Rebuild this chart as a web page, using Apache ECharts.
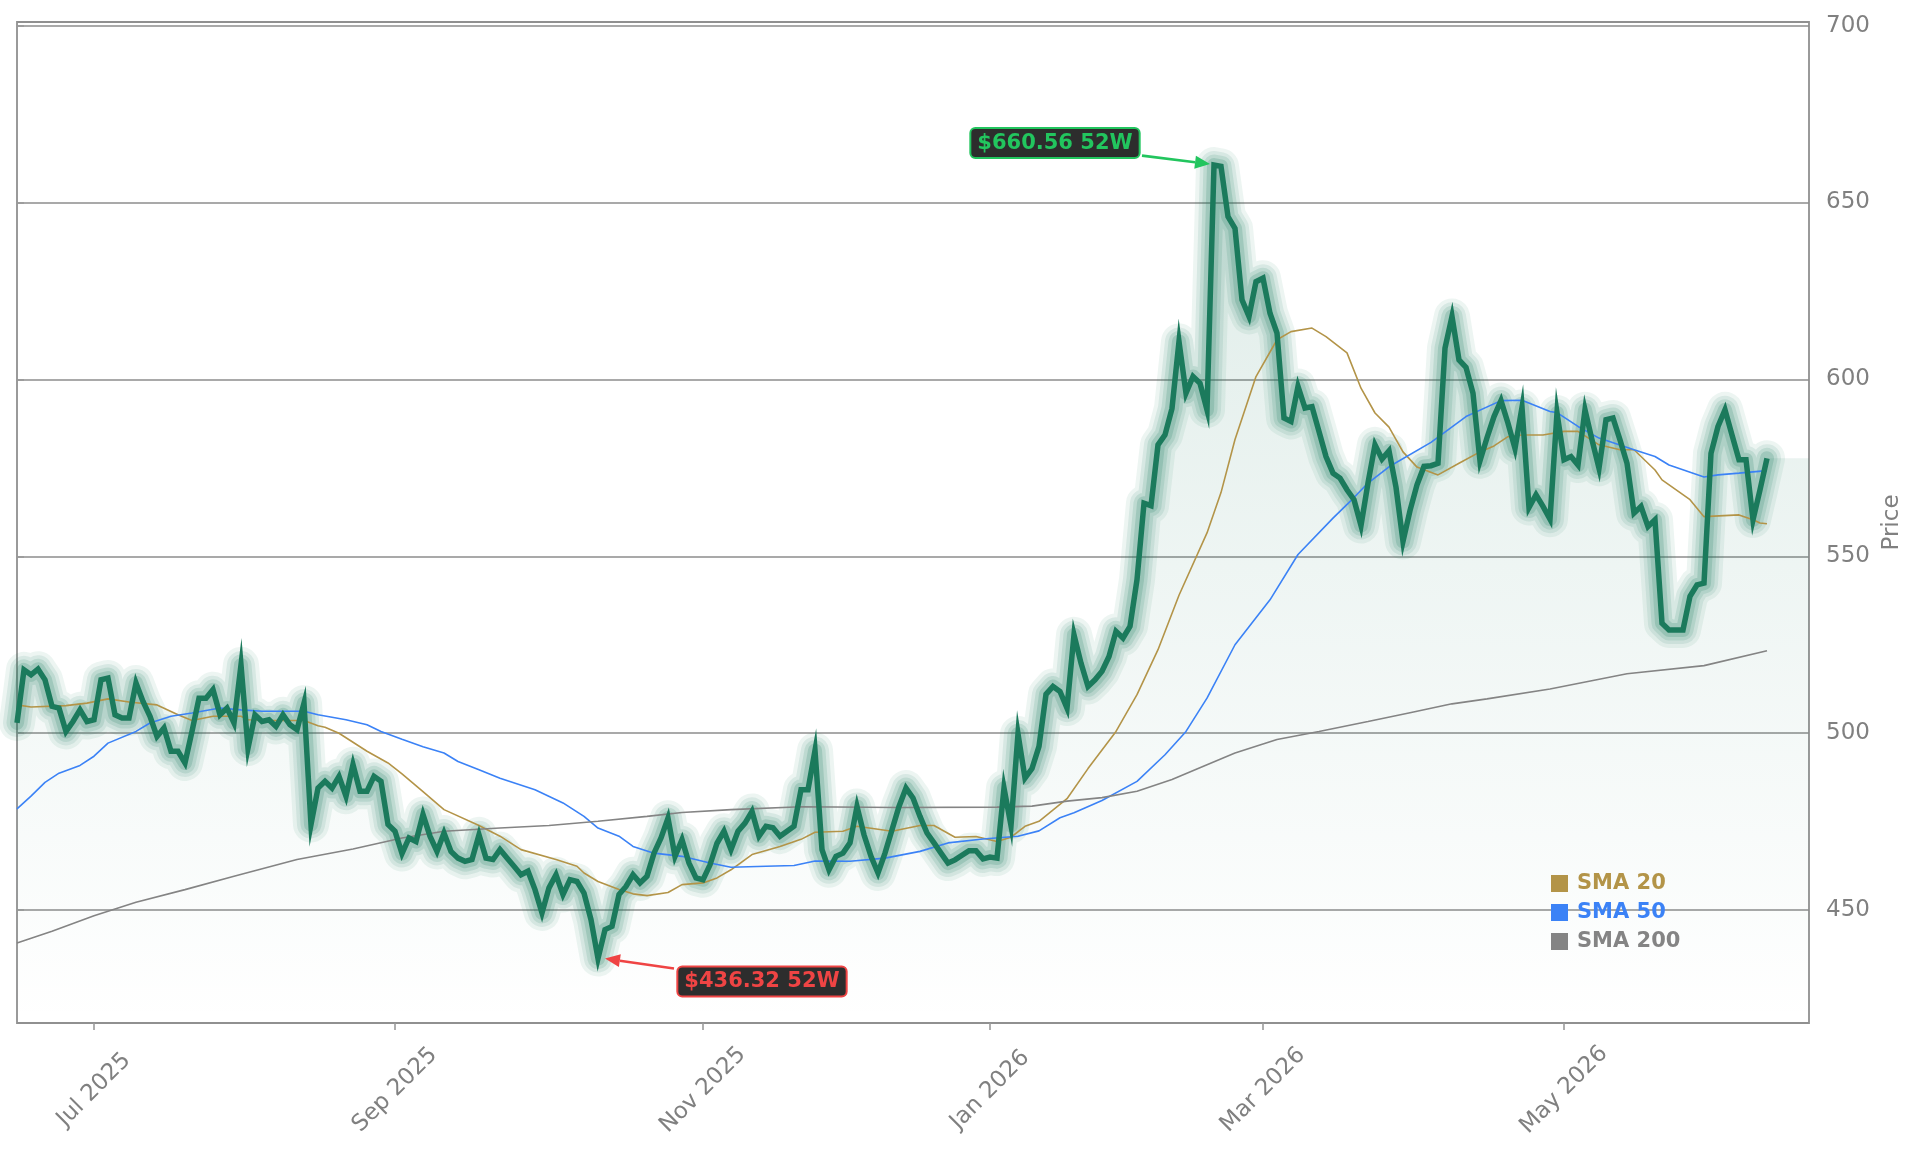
<!DOCTYPE html>
<html><head><meta charset="utf-8">
<script src="https://cdn.jsdelivr.net/npm/echarts@6/dist/echarts.min.js"></script>
<style>html,body{margin:0;padding:0;background:#fff}#c{width:1921px;height:1158px}</style>
</head><body><div id="c"></div>
<script>
// ---------- data ----------
const startDate = '2025-06-13';
const holidays = ['2025-06-19','2025-07-04','2025-09-01','2025-11-27','2025-12-25','2026-01-01','2026-01-19','2026-02-16','2026-04-03','2026-05-25','2026-06-19'];
const nCategories = 257;
const tickMonths = ['2025-07','2025-09','2025-11','2026-01','2026-03','2026-05'];
const yTicks = [450, 500, 550, 600, 650, 700];

const price = [
502.9,517.9,516.5,518.1,515.1,507.6,507.1,500.5,503.3,506.6,
503.3,503.8,515.1,515.6,505.2,504.3,504.3,514.2,509.0,504.8,
499.1,501.5,494.9,494.9,491.6,500.5,509.9,509.9,512.3,505.2,
507.1,502.9,519.3,495.8,505.2,503.3,503.8,501.9,505.2,502.4,
501.0,508.5,474.2,484.5,486.4,484.5,487.8,482.2,491.1,483.6,
483.6,487.8,486.4,474.2,472.3,466.0,470.4,469.4,477.0,470.9,
466.6,471.8,466.6,464.7,463.8,464.3,471.3,464.7,464.3,467.1,
464.7,462.4,460.0,461.0,455.8,449.2,456.3,460.0,454.4,458.6,
458.1,454.8,447.3,436.32,444.5,445.4,454.4,456.7,460.0,457.7,
459.6,466.1,470.4,476.0,465.2,469.9,463.3,459.1,458.6,462.8,
468.9,472.3,467.1,472.3,474.6,477.9,470.9,473.7,473.3,470.9,
472.3,473.7,484.0,484.0,495.1,467.1,461.4,465.2,466.1,469.0,
479.3,471.3,465.2,460.5,466.1,472.7,479.3,484.5,481.7,476.5,
471.8,469.0,466.1,463.3,464.2,465.5,466.8,466.8,464.5,465.0,
464.7,484.5,473.9,499.8,487.3,490.0,496.3,511.0,513.2,511.8,
507.1,527.8,519.8,513.2,515.1,517.5,521.7,528.8,526.9,530.2,
543.4,565.0,564.3,581.5,584.3,591.8,610.7,596.1,600.8,598.9,
591.4,660.56,660.2,646.0,642.7,622.5,617.8,627.6,628.6,618.7,
613.1,589.1,588.1,598.0,591.9,592.3,585.3,578.2,573.5,572.1,
568.8,566.0,558.7,570.7,581.5,577.5,579.8,569.5,554.2,562.9,
570.2,575.4,575.6,576.3,608.8,617.8,605.5,603.4,596.1,577.0,
583.5,589.5,594.0,587.6,580.5,592.1,563.8,567.4,564.1,560.5,
590.5,577.3,578.2,575.8,591.4,582.9,574.9,588.6,589.1,582.9,
576.3,562.2,564.1,558.4,560.3,531.1,529.2,529.2,529.2,538.7,
541.9,542.4,579.1,586.7,591.4,584.3,577.3,577.3,560.3,568.8,
577.7
];

const sma20 = [[0,508.0],[2,507.4],[7,507.8],[10,508.5],[13,509.7],[16,508.8],[20,508.0],[23,505.2],[25,503.6],[28,504.8],[32,504.8],[33,503.8],[36,503.6],[41,503.6],[43,502.1],[44,501.7],[46,500.0],[50,494.9],[53,491.6],[55,488.5],[58,483.5],[61,478.4],[66,473.9],[69,470.9],[72,467.1],[77,464.3],[80,462.4],[81,460.5],[83,458.1],[86,455.8],[88,454.6],[90,454.1],[93,455.0],[95,457.2],[98,457.7],[100,459.1],[102,461.4],[105,465.7],[109,468.0],[112,470.0],[114,472.0],[118,472.3],[120,473.7],[125,472.3],[129,473.9],[131,473.9],[134,470.6],[137,470.8],[140,469.4],[142,470.6],[144,473.7],[146,475.1],[150,481.5],[153,490.0],[157,500.5],[160,510.9],[163,523.6],[166,539.0],[170,556.6],[172,568.0],[174,583.0],[177,600.8],[180,611.2],[182,613.5],[185,614.5],[187,612.1],[190,607.5],[192,597.5],[194,590.5],[196,586.5],[198,579.5],[200,575.2],[203,573.0],[206,576.3],[209,579.5],[211,581.2],[213,583.8],[215,584.3],[218,584.3],[221,585.3],[223,585.3],[226,581.5],[229,580.1],[231,580.1],[234,574.4],[235,571.6],[239,566.0],[241,561.2],[246,561.7],[248,560.3],[249,559.4],[250,559.2]];

const sma50 = [[0,478.6],[2,482.2],[4,486.1],[6,488.7],[9,490.9],[11,493.5],[13,497.2],[17,500.5],[19,502.9],[22,504.8],[25,505.7],[29,507.1],[32,506.6],[35,506.2],[41,506.2],[43,505.2],[47,503.8],[50,502.4],[52,500.5],[55,498.3],[58,496.2],[61,494.4],[63,492.0],[66,489.7],[69,487.3],[74,484.0],[78,480.3],[81,476.5],[83,473.2],[86,470.9],[88,468.0],[91,466.1],[95,465.2],[99,463.3],[102,462.1],[107,462.4],[111,462.6],[114,463.9],[119,463.8],[124,464.7],[129,466.6],[133,469.0],[138,470.1],[143,470.9],[146,472.4],[149,476.1],[151,477.5],[155,481.0],[160,486.4],[164,493.9],[167,500.5],[170,509.9],[174,525.0],[179,537.7],[183,550.5],[188,560.8],[191,566.6],[193,570.7],[196,575.3],[202,582.2],[207,589.5],[212,594.0],[215,594.1],[219,590.9],[220,590.6],[223,586.7],[226,583.4],[231,580.1],[234,578.2],[236,575.8],[241,572.4],[243,573.0],[246,573.5],[250,574.2]];

const sma200 = [[0,440.7],[5,444.0],[11,448.4],[17,452.2],[24,455.8],[31,459.6],[40,464.3],[48,467.3],[55,470.4],[61,472.3],[69,473.2],[76,473.9],[83,475.1],[90,476.5],[95,477.6],[102,478.4],[112,479.2],[126,479.0],[140,479.1],[145,479.4],[150,480.8],[155,481.8],[160,483.6],[165,486.9],[170,491.1],[174,494.4],[180,498.2],[186,500.5],[193,503.3],[199,505.8],[205,508.3],[210,509.7],[219,512.5],[230,516.8],[241,519.1],[250,523.3]];

// ---------- helpers ----------
function buildDates(start, count, hol) {
  const out = [];
  const hs = new Set(hol);
  const d = new Date(start + 'T00:00:00Z');
  while (out.length < count) {
    const wd = d.getUTCDay();
    const s = d.toISOString().slice(0, 10);
    if (wd !== 0 && wd !== 6 && !hs.has(s)) out.push(s);
    d.setUTCDate(d.getUTCDate() + 1);
  }
  return out;
}
const dates = buildDates(startDate, nCategories, holidays);
const tickIdx = new Set(tickMonths.map(m => dates.findIndex(s => s.startsWith(m))));
const MONTHS = ['Jan','Feb','Mar','Apr','May','Jun','Jul','Aug','Sep','Oct','Nov','Dec'];

const priceXY = price.map((v, i) => [i, v]);
const lastIdx = price.length - 1;
const fillXY = priceXY.concat(
  Array.from({length: nCategories - price.length}, (_, k) => [lastIdx + 1 + k, price[lastIdx]])
);

const GREEN = '#1b7a5c';
const FONT = 'DejaVu Sans';
const glowLayers = [
  {w: 36, a: 0.08}, {w: 28, a: 0.10}, {w: 21, a: 0.13}, {w: 14, a: 0.18}
];

const series = [];
series.push({
  type: 'line', xAxisIndex: 1, data: fillXY, showSymbol: false, silent: true,
  lineStyle: {width: 0, opacity: 0},
  areaStyle: {color: new echarts.graphic.LinearGradient(0, 0, 0, 1, [
    {offset: 0, color: 'rgba(26,122,94,0.20)'},
    {offset: 1, color: 'rgba(26,122,94,0.0)'}
  ])},
  z: 1
});
glowLayers.forEach(g => series.push({
  type: 'line', xAxisIndex: 1, data: priceXY, showSymbol: false, silent: true,
  lineStyle: {width: g.w, color: 'rgba(26,122,94,' + g.a + ')', join: 'round', cap: 'round'},
  z: 2
}));
const smaDefs = [
  {name: 'SMA 20', data: sma20, color: '#b39448'},
  {name: 'SMA 50', data: sma50, color: '#3b82f6'},
  {name: 'SMA 200', data: sma200, color: '#848484'}
];
smaDefs.forEach(s => series.push({
  name: s.name, type: 'line', xAxisIndex: 1, data: s.data, showSymbol: false,
  color: s.color, lineStyle: {width: 1.6, color: s.color}, z: 3
}));
const coreIndex = series.length;
series.push({
  type: 'line', xAxisIndex: 1, data: priceXY, showSymbol: false,
  lineStyle: {width: 5.5, color: GREEN, join: 'miter'}, z: 4
});

const chart = echarts.init(document.getElementById('c'), null, {renderer: 'canvas'});
chart.setOption({
  animation: false,
  backgroundColor: '#ffffff',
  grid: {left: 17, right: 112, top: 22, bottom: 135, show: true, borderColor: '#9a9a9a', borderWidth: 2, backgroundColor: 'transparent'},
  legend: {
    orient: 'vertical', left: 1546, top: 868, icon: 'rect', itemWidth: 17, itemHeight: 17, itemGap: 8,
    selectedMode: false,
    textStyle: {fontFamily: FONT, fontWeight: 'bold', fontSize: 21, lineHeight: 17, padding: [0, 0, 0, 4]},
    data: smaDefs.map(s => ({name: s.name, textStyle: {color: s.color}}))
  },
  xAxis: [{
    type: 'category', data: dates, boundaryGap: false,
    axisLine: {show: false},
    axisTick: {show: true, interval: (i) => tickIdx.has(i), length: 7, lineStyle: {color: '#9a9a9a', width: 1.6}},
    axisLabel: {
      interval: (i) => tickIdx.has(i), rotate: 45, align: 'center', verticalAlign: 'middle', margin: 67,
      color: '#808080', fontFamily: FONT, fontSize: 23,
      formatter: (v) => { const p = v.split('-'); return MONTHS[+p[1] - 1] + ' ' + p[0]; }
    },
    splitLine: {show: false}
  }, {
    type: 'value', min: 0, max: nCategories - 1, show: false
  }],
  yAxis: [{
    type: 'value', position: 'right', min: 418.1, max: 701, splitNumber: 5,
    name: 'Price', nameLocation: 'middle', nameGap: 72, nameRotate: 90,
    nameTextStyle: {color: '#808080', fontFamily: FONT, fontSize: 23},
    axisLine: {show: false},
    axisTick: {show: true, length: 7, lineStyle: {color: '#9a9a9a', width: 1.6}},
    axisLabel: {
      margin: 17, color: '#808080', fontFamily: FONT, fontSize: 23, showMinLabel: false, showMaxLabel: false,
      formatter: (v) => yTicks.includes(Math.round(v * 100) / 100) ? String(v) : ''
    },
    splitLine: {show: true, lineStyle: {color: '#8c8c8c', width: 1.6}}
  }],
  series: series
});

// ---------- 52-week annotations, placed from the data through the chart's scales ----------
function arrowGraphics(tail, tip, color) {
  const dx = tip[0] - tail[0], dy = tip[1] - tail[1];
  const L = Math.hypot(dx, dy), ux = dx / L, uy = dy / L;
  const hl = 15, hw = 6.5;
  const base = [tip[0] - ux * hl, tip[1] - uy * hl];
  return [
    {type: 'line', shape: {x1: tail[0], y1: tail[1], x2: base[0], y2: base[1]}, style: {stroke: color, lineWidth: 2.6}, z: 100},
    {type: 'polygon', shape: {points: [tip, [base[0] - uy * hw, base[1] + ux * hw], [base[0] + uy * hw, base[1] - ux * hw]]}, style: {fill: color}, z: 100}
  ];
}
function labelGraphic(center, text, color) {
  return {type: 'text', x: center[0], y: center[1], z: 101, style: {
    text: text, fill: color, font: 'bold 21px "DejaVu Sans"', align: 'center', verticalAlign: 'middle',
    backgroundColor: '#2d2d2d', borderColor: color, borderWidth: 2, borderRadius: 4, padding: [4, 6, 3, 6]
  }};
}
const hiVal = Math.max(...price), loVal = Math.min(...price);
const hiIdx = price.indexOf(hiVal), loIdx = price.indexOf(loVal);
const hp = chart.convertToPixel({seriesIndex: coreIndex}, [hiIdx, hiVal]);
const lp = chart.convertToPixel({seriesIndex: coreIndex}, [loIdx, loVal]);
const hiColor = '#22c55e', loColor = '#ef4444';
const elements = []
  .concat(arrowGraphics([hp[0] - 72, hp[1] - 9.5], [hp[0] - 4, hp[1] - 1], hiColor))
  .concat(arrowGraphics([lp[0] + 76, lp[1] + 10], [lp[0] + 7, lp[1]], loColor));
elements.push(labelGraphic([hp[0] - 159, hp[1] - 22], '$' + hiVal.toFixed(2) + ' 52W', hiColor));
elements.push(labelGraphic([lp[0] + 164, lp[1] + 23], '$' + loVal.toFixed(2) + ' 52W', loColor));
chart.setOption({graphic: {elements: elements}});
</script>
</body></html>
